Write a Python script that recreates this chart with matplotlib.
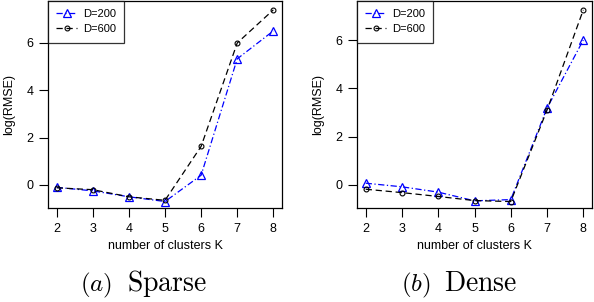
import matplotlib
matplotlib.use("Agg")
import matplotlib.pyplot as plt

plt.rcParams["font.family"] = ["Liberation Sans", "DejaVu Sans"]
plt.rcParams["mathtext.fontset"] = "cm"

# Данные
k = [2, 3, 4, 5, 6, 7, 8]
sparse_d200 = [-0.10, -0.25, -0.50, -0.70, 0.41, 5.33, 6.51]
sparse_d600 = [-0.12, -0.20, -0.50, -0.65, 1.63, 6.00, 7.40]
dense_d200 = [0.07, -0.08, -0.30, -0.66, -0.61, 3.18, 6.00]
dense_d600 = [-0.18, -0.32, -0.48, -0.65, -0.69, 3.10, 7.25]
tags = [r"$(a)$", r"$(b)$"]
names = [r"$\mathrm{Sparse}$", r"$\mathrm{Dense}$"]
yticks = [0, 2, 4, 6]

W, H = 594, 302
fig = plt.figure(figsize=(W / 100, H / 100), dpi=100)
ax_a = fig.add_axes([48 / W, 94 / H, 234 / W, 207 / H])
ax_b = fig.add_axes([357 / W, 94 / H, 235 / W, 207 / H])

panels = [
    (ax_a, sparse_d200, sparse_d600, tags[0], names[0], 112, 127),
    (ax_b, dense_d200, dense_d600, tags[1], names[1], 431, 444),
]

for ax, d200, d600, tag, name, x_tag, x_name in panels:
    ax.plot(k, d200, color="blue", linestyle=(0, (5, 2, 1, 2)), linewidth=0.9,
            marker="^", markersize=6, markerfacecolor="none",
            markeredgecolor="blue", markeredgewidth=0.9, label="D=200")
    ax.plot(k, d600, color="black", linestyle=(0, (5, 3)), linewidth=0.9,
            marker="o", markersize=3.5, markerfacecolor="none",
            markeredgecolor="black", markeredgewidth=0.8, label="D=600")
    lo = min(min(d200), min(d600))
    hi = max(max(d200), max(d600))
    pad = (hi - lo) * 0.04
    ax.set_ylim(lo - pad + 0.05, hi + pad + 0.05)
    ax.set_xlim(1.76, 8.24)
    ax.set_xticks(k)
    ax.set_yticks(yticks)
    ax.tick_params(direction="out", length=6.5, width=0.8, labelsize=9, pad=4)
    ax.set_xlabel("number of clusters K", fontsize=9, labelpad=4)
    ax.set_ylabel("log(RMSE)", fontsize=9, labelpad=8)
    for s in ax.spines.values():
        s.set_linewidth(0.9)
    leg = ax.legend(loc="upper left", fontsize=8, frameon=True, fancybox=False,
                    borderaxespad=0, handlelength=1.9, handletextpad=0.5,
                    borderpad=0.75, labelspacing=0.45)
    leg.get_frame().set_edgecolor("black")
    leg.get_frame().set_linewidth(0.9)
    # подпись панели
    fig.text(x_tag / W, 11 / H, tag, ha="right", va="baseline", fontsize=18)
    fig.text(x_name / W, 11 / H, name, ha="left", va="baseline", fontsize=20)

fig.savefig("out.png", dpi=100)
